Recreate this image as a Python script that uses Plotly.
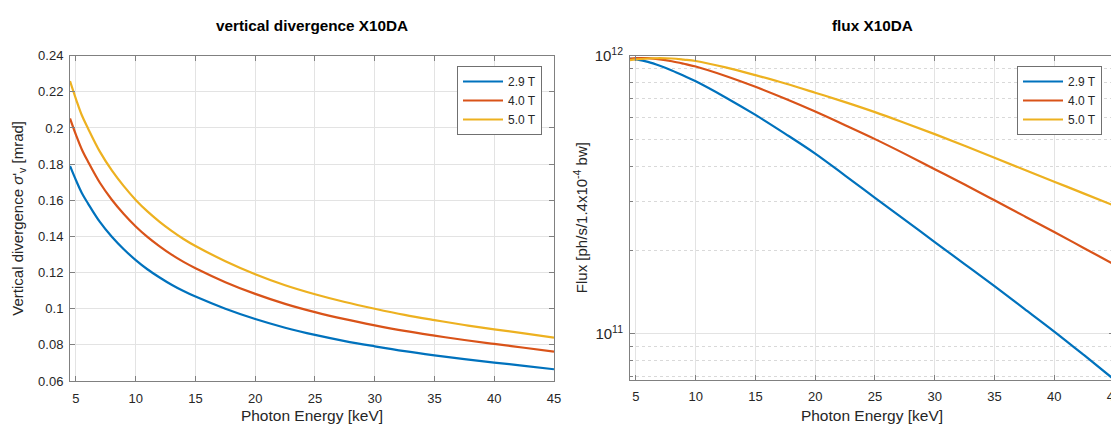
import plotly.graph_objects as go

# ---------------- data ----------------
energy_div = [4.5, 5, 5.5, 6, 7, 8, 9, 10, 11, 12, 13, 14, 15, 17.5, 20, 22.5, 25, 27.5, 30, 32.5, 35, 37.5, 40, 42.5, 45]
div_29T = [0.179, 0.1711, 0.1639, 0.1583, 0.1480, 0.1398, 0.1329, 0.1269, 0.1217, 0.1173, 0.1133, 0.1098, 0.1067,
           0.1000, 0.0943, 0.0895, 0.0855, 0.0821, 0.0792, 0.0765, 0.0742, 0.0721, 0.0702, 0.0684, 0.0665]
div_40T = [0.2053, 0.1962, 0.1880, 0.1815, 0.1697, 0.1603, 0.1524, 0.1455, 0.1396, 0.1345, 0.1299, 0.1259, 0.1224,
           0.1147, 0.1082, 0.1027, 0.0981, 0.0942, 0.0908, 0.0877, 0.0851, 0.0827, 0.0805, 0.0784, 0.0763]
div_50T = [0.226, 0.2160, 0.2069, 0.1999, 0.1869, 0.1765, 0.1678, 0.1602, 0.1537, 0.1481, 0.1431, 0.1386, 0.1347,
           0.1263, 0.1191, 0.1130, 0.1080, 0.1037, 0.1000, 0.0966, 0.0937, 0.0910, 0.0886, 0.0864, 0.0840]

energy_flux = [4.5, 5, 6, 7, 8, 9, 10, 12.5, 15, 17.5, 20, 22.5, 25, 27.5, 30, 32.5, 35, 37.5, 40, 42.5, 45]
flux_29T = [9.772e11, 9.705e11, 9.506e11, 9.204e11, 8.851e11, 8.472e11, 8.091e11, 7.079e11, 6.124e11, 5.236e11,
            4.446e11, 3.707e11, 3.083e11, 2.568e11, 2.138e11, 1.781e11, 1.483e11, 1.230e11, 1.019e11, 8.375e10, 6.855e10]
flux_40T = [9.750e11, 9.795e11, 9.795e11, 9.705e11, 9.550e11, 9.354e11, 9.141e11, 8.453e11, 7.727e11, 6.998e11,
            6.295e11, 5.623e11, 5.012e11, 4.436e11, 3.908e11, 3.443e11, 3.020e11, 2.649e11, 2.323e11, 2.032e11, 1.778e11]
flux_50T = [9.638e11, 9.705e11, 9.772e11, 9.795e11, 9.772e11, 9.683e11, 9.572e11, 9.078e11, 8.511e11, 7.943e11,
            7.362e11, 6.808e11, 6.266e11, 5.728e11, 5.224e11, 4.742e11, 4.295e11, 3.890e11, 3.524e11, 3.192e11, 2.891e11]

series_names = ["2.9 T", "4.0 T", "5.0 T"]
series_colors = ["#0072BD", "#D95319", "#EDB120"]

x_ticks = [5, 10, 15, 20, 25, 30, 35, 40, 45]
div_ticks = [0.06, 0.08, 0.1, 0.12, 0.14, 0.16, 0.18, 0.2, 0.22, 0.24]
div_ticktext = ["0.06", "0.08", "0.1", "0.12", "0.14", "0.16", "0.18", "0.2", "0.22", "0.24"]
flux_major = [1e11, 1e12]
flux_major_text = ["10<sup>11</sup>", "10<sup>12</sup>"]
flux_minor = [7e10, 8e10, 9e10, 2e11, 3e11, 4e11, 5e11, 6e11, 7e11, 8e11, 9e11]

# ---------------- figure ----------------
OFF = 8  # page body margin offset of the rendered figure
W, H = 1119 - OFF, 424 - OFF


def px(x):
    return (x - OFF) / W


def py(y):
    return 1 - (y - OFF) / H


FONT = "Liberation Sans, Arial, sans-serif"
TXT = "#262626"
AX = "#808080"
GRID = "#e3e3e3"

fig = go.Figure()

for name, col, ys in zip(series_names, series_colors, [div_29T, div_40T, div_50T]):
    fig.add_trace(go.Scatter(x=energy_div, y=ys, mode="lines", name=name,
                             line=dict(color=col, width=2.2, shape="spline", smoothing=1.0),
                             xaxis="x", yaxis="y", legend="legend"))

for name, col, ys in zip(series_names, series_colors, [flux_29T, flux_40T, flux_50T]):
    fig.add_trace(go.Scatter(x=energy_flux, y=ys, mode="lines", name=name,
                             line=dict(color=col, width=2.2, shape="spline", smoothing=1.0),
                             xaxis="x2", yaxis="y2", legend="legend2"))

common_x = dict(range=[4.5, 45], tickvals=x_ticks, ticks="inside", ticklen=5, tickcolor=AX,
                showline=True, linecolor=AX, linewidth=1, mirror="allticks", automargin=False,
                showgrid=True, gridcolor=GRID, gridwidth=1, zeroline=False,
                ticklabelstandoff=5, ticklabeloverflow="allow",
                tickfont=dict(family=FONT, size=13, color=TXT),
                title=dict(text="Photon Energy [keV]", font=dict(family=FONT, size=15.5, color=TXT), standoff=9))

fig.update_layout(
    width=W, height=H, autosize=False,
    margin=dict(l=0, r=0, t=0, b=0, pad=0, autoexpand=False),
    paper_bgcolor="white", plot_bgcolor="white",
    font=dict(family=FONT, color=TXT),
    xaxis=dict(domain=[px(70), px(554)], anchor="y", **common_x),
    xaxis2=dict(domain=[px(630), px(1114)], anchor="y2", **common_x),
    yaxis=dict(domain=[py(381), py(55.7)], anchor="x", range=[0.06, 0.24],
               tickvals=div_ticks, ticktext=div_ticktext, ticks="inside", ticklen=5, tickcolor=AX,
               showline=True, linecolor=AX, linewidth=1, mirror="allticks", automargin=False,
               showgrid=True, gridcolor=GRID, zeroline=False, ticklabelstandoff=3,
               tickfont=dict(family=FONT, size=13, color=TXT),
               title=dict(text="Vertical divergence <i>σ</i>'<sub>v</sub> [mrad]",
                          font=dict(family=FONT, size=15, color=TXT), standoff=10)),
    yaxis2=dict(domain=[py(379.5), py(55.7)], anchor="x2", type="log",
                range=[10.8357, 12.0],
                tickvals=flux_major, ticktext=flux_major_text, ticks="inside", ticklen=5, tickcolor=AX,
                showline=True, linecolor=AX, linewidth=1, mirror="allticks", automargin=False,
                showgrid=True, gridcolor=GRID, zeroline=False, ticklabelstandoff=3,
                tickfont=dict(family=FONT, size=15, color=TXT),
                minor=dict(tickmode="array", tickvals=flux_minor, ticks="inside", ticklen=3,
                           tickcolor=AX, showgrid=True, gridcolor="#d9d9d9", griddash="dot", gridwidth=1),
                title=dict(text="Flux [ph/s/1.4x10<sup>-4</sup> bw]",
                           font=dict(family=FONT, size=15, color=TXT), standoff=3)),
    legend=dict(x=px(542), y=py(66), xanchor="right", yanchor="top",
                bgcolor="white", bordercolor="#707070", borderwidth=1,
                font=dict(family=FONT, size=12, color=TXT), tracegroupgap=0,
                itemwidth=40),
    legend2=dict(x=px(1102), y=py(66), xanchor="right", yanchor="top",
                 bgcolor="white", bordercolor="#707070", borderwidth=1,
                 font=dict(family=FONT, size=12, color=TXT), tracegroupgap=0,
                 itemwidth=40),
    annotations=[
        dict(text="<b>vertical divergence X10DA</b>", x=px(312), y=py(25.5), xref="paper", yref="paper",
             xanchor="center", yanchor="middle", showarrow=False,
             font=dict(family=FONT, size=15.3, color="#000000")),
        dict(text="<b>flux X10DA</b>", x=px(872), y=py(25.5), xref="paper", yref="paper",
             xanchor="center", yanchor="middle", showarrow=False,
             font=dict(family=FONT, size=15.3, color="#000000")),
    ],
)

fig.write_html("out.html")
